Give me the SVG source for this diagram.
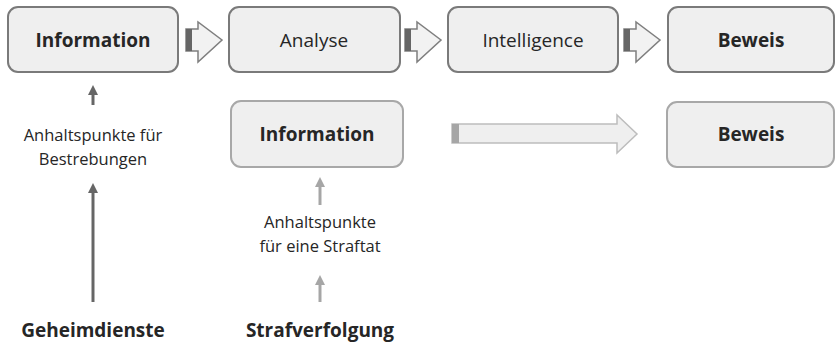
<svg xmlns="http://www.w3.org/2000/svg" width="836" height="345" viewBox="0 0 836 345">
<style>
.box{fill:#efefef;stroke:#7a7a7a;stroke-width:2}
.box2{fill:#efefef;stroke:#a8a8a8;stroke-width:2}
.t{font-family:"Open Sans","Liberation Sans",sans-serif;font-size:19px;fill:#262626;text-anchor:middle}
.b{font-weight:bold}
.s{font-size:16.5px}
.ba{fill:#f2f2f2;stroke:#7f7f7f;stroke-width:1.5}
.ba2{fill:#efefef;stroke:#bdbdbd;stroke-width:1.5}
</style>
<rect width="836" height="345" fill="#fff"/>
<g id="n-info1"><rect class="box" x="8" y="7" width="170" height="65" rx="10"/><text class="t b" x="93" y="47">Information</text></g>
<g id="n-analyse"><rect class="box" x="229" y="7" width="171" height="65" rx="10"/><text class="t" x="314" y="47">Analyse</text></g>
<g id="n-intel"><rect class="box" x="448" y="7" width="170" height="65" rx="10"/><text class="t" x="533" y="47">Intelligence</text></g>
<g id="n-beweis1"><rect class="box" x="668" y="7" width="166" height="65" rx="10"/><text class="t b" x="751" y="47">Beweis</text></g>
<g id="n-info2"><rect class="box2" x="231" y="101" width="172" height="66" rx="10"/><text class="t b" x="317" y="141">Information</text></g>
<g id="n-beweis2"><rect class="box2" x="667" y="102" width="167" height="65" rx="10"/><text class="t b" x="751" y="141">Beweis</text></g>
<g id="n-label1"><text class="t s" x="93" y="141">Anhaltspunkte für</text><text class="t s" x="93" y="165">Bestrebungen</text></g>
<g id="n-label2"><text class="t s" x="320" y="228">Anhaltspunkte</text><text class="t s" x="320" y="252">für eine Straftat</text></g>
<g id="n-geheim"><text class="t b" x="93" y="337">Geheimdienste</text></g>
<g id="n-straf"><text class="t b" x="320" y="337">Strafverfolgung</text></g>
<g id="connectors">
<path class="ba" d="M186 29H198V22L222 40L198 62V51H186Z"/><rect x="186" y="29" width="6" height="22" fill="#666"/>
<path class="ba" d="M405 29H417V22L441 40L417 62V51H405Z"/><rect x="405" y="29" width="6" height="22" fill="#666"/>
<path class="ba" d="M624 29H636V22L660 40L636 62V51H624Z"/><rect x="624" y="29" width="6" height="22" fill="#666"/>
<path class="ba2" d="M452 124H617V115L637 134L617 153V143H452Z"/><rect x="452" y="124" width="7" height="19" fill="#a6a6a6"/>
<g fill="#666" stroke="#666">
<line x1="93" y1="105" x2="93" y2="94" stroke-width="3"/><path d="M88 95L93 85L98 95Z" stroke="none"/>
<line x1="93" y1="302" x2="93" y2="192" stroke-width="3"/><path d="M88 193L93 183L98 193Z" stroke="none"/>
</g>
<g fill="#a6a6a6" stroke="#a6a6a6">
<line x1="320" y1="205" x2="320" y2="186" stroke-width="3"/><path d="M315 187L320 177L325 187Z" stroke="none"/>
<line x1="320" y1="302" x2="320" y2="284" stroke-width="3"/><path d="M315 285L320 275L325 285Z" stroke="none"/>
</g>
</g>
</svg>
